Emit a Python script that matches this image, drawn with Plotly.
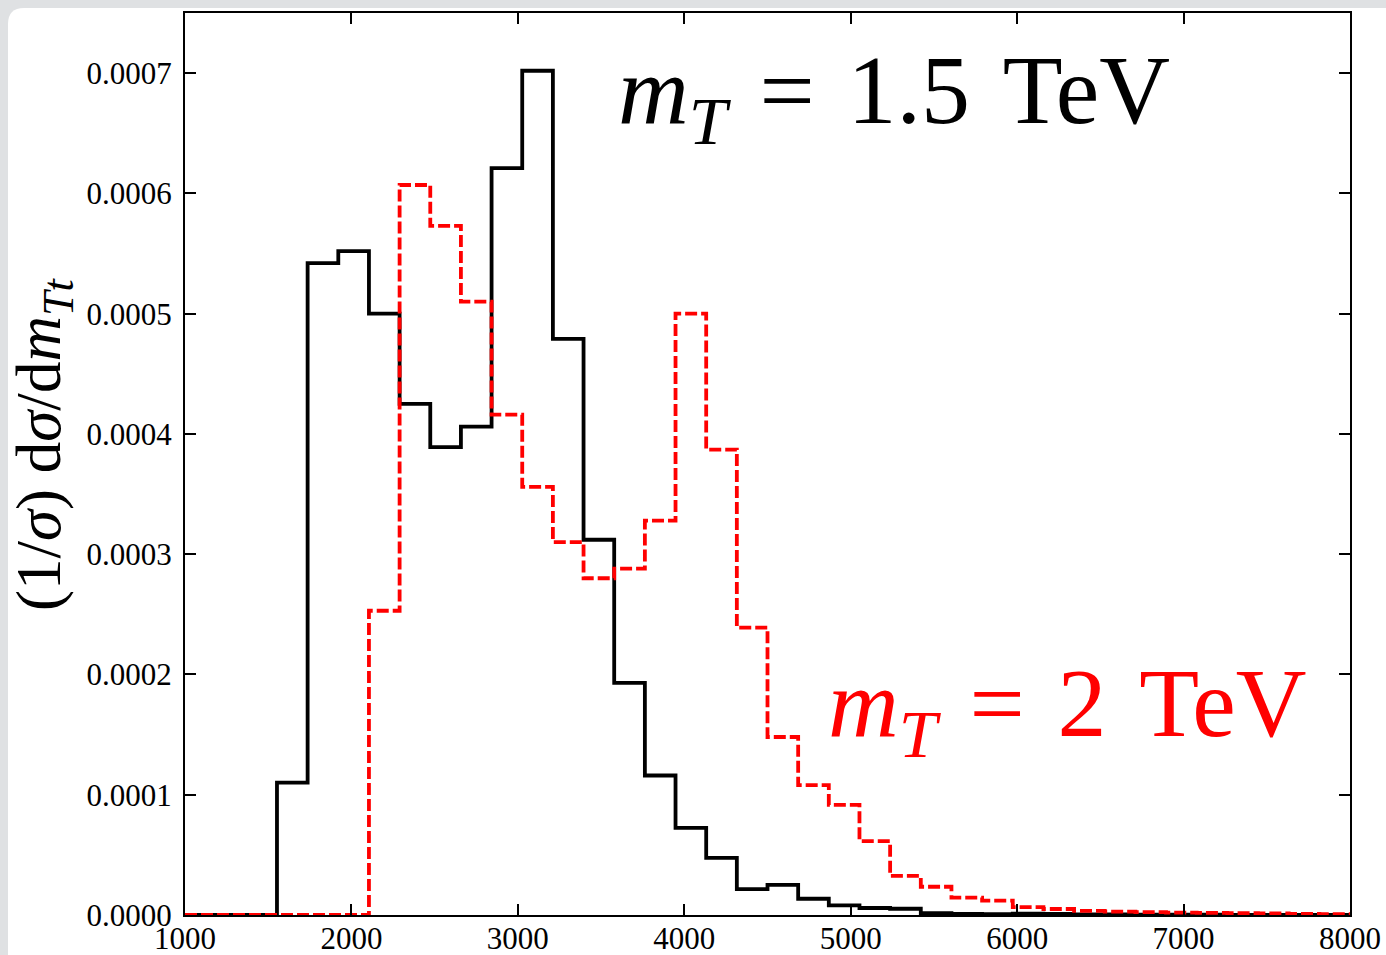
import plotly.graph_objects as go

# Bin edges (GeV) of the m_Tt histograms (38 bins from 1000 to 8000)
bin_edges = [1000.0, 1184.2, 1368.4, 1552.6, 1736.8, 1921.1, 2105.3, 2289.5, 2473.7,
             2657.9, 2842.1, 3026.3, 3210.5, 3394.7, 3578.9, 3763.2, 3947.4, 4131.6,
             4315.8, 4500.0, 4684.2, 4868.4, 5052.6, 5236.8, 5421.1, 5605.3, 5789.5,
             5973.7, 6157.9, 6342.1, 6526.3, 6710.5, 6894.7, 7078.9, 7263.2, 7447.4,
             7631.6, 7815.8, 8000.0]

# (1/sigma) dsigma/dm_Tt for m_T = 1.5 TeV (black, solid)
mt15_values = [0.0, 0.0, 0.0, 0.000110, 0.000542, 0.000552, 0.000500, 0.000425,
               0.000389, 0.000406, 0.000621, 0.000702, 0.000479, 0.000312, 0.000193,
               0.000116, 0.0000725, 0.0000475, 0.0000215, 0.0000250, 0.0000135,
               0.0000080, 0.0000058, 0.0000052, 0.0000015, 0.0000010, 0.0000008,
               0.0000012, 0.0000010, 0.0000006, 0.0000004, 0.0000003, 0.0000002,
               0.0000002, 0.0000001, 0.0000001, 0.0, 0.0]

# (1/sigma) dsigma/dm_Tt for m_T = 2 TeV (red, dashed)
mt2_values = [0.0, 0.0, 0.0, 0.0, 0.0, 0.0, 0.000253, 0.000607, 0.000573, 0.000510,
              0.000416, 0.000356, 0.000310, 0.000280, 0.000288, 0.000328, 0.000500,
              0.000387, 0.000239, 0.000148, 0.000108, 0.0000915, 0.0000615, 0.0000325,
              0.0000235, 0.0000145, 0.0000120, 0.0000065, 0.0000050, 0.0000035,
              0.0000028, 0.0000024, 0.0000020, 0.0000018, 0.0000015, 0.0000013,
              0.0000010, 0.0000008]

x_ticks = [1000, 2000, 3000, 4000, 5000, 6000, 7000, 8000]
y_ticks = [0.0, 0.0001, 0.0002, 0.0003, 0.0004, 0.0005, 0.0006, 0.0007]

W, H = 1386, 955
ML, MR, MT, MB = 185, 36, 13, 40
PW, PH = W - ML - MR, H - MT - MB

def px_x(p):
    return (p - ML) / PW

def px_y(p):
    return (H - MB - p) / PH

fig = go.Figure()
fig.add_trace(go.Scatter(
    x=bin_edges, y=mt15_values + [mt15_values[-1]], mode="lines",
    line=dict(shape="hv", color="black", width=3.8), showlegend=False))
fig.add_trace(go.Scatter(
    x=bin_edges, y=mt2_values + [mt2_values[-1]], mode="lines",
    line=dict(shape="hv", color="#ff0000", width=3.8, dash="12px,4px"), showlegend=False))

serif = "Liberation Serif, DejaVu Serif, serif"

axis_common = dict(showline=True, linecolor="black", linewidth=2, mirror="ticks",
                   ticks="inside", ticklen=11, tickwidth=1.5, tickcolor="black",
                   showgrid=False, zeroline=False, automargin=False,
                   tickfont=dict(family=serif, size=31, color="black"))
fig.update_xaxes(range=[1000, 8000], tickvals=x_ticks, ticklabelstandoff=-5,
                 ticktext=[str(v) for v in x_ticks], **axis_common)
fig.update_yaxes(range=[0, 0.00075], tickvals=y_ticks, ticklabelstandoff=5,
                 ticktext=[f"{v:.4f}" for v in y_ticks], **axis_common)

# page frame: grey border with a white rounded sheet
x0, y0 = px_x(8), px_y(8)
x1, yb = px_x(W + 20), px_y(H + 20)
rx, ry = 16 / PW, 16 / PH
path = (f"M {x0},{yb} L {x0},{y0 - ry} Q {x0},{y0} {x0 + rx},{y0} "
        f"L {x1},{y0} L {x1},{yb} Z")
fig.add_shape(type="path", path=path, xref="paper", yref="paper",
              fillcolor="white", line=dict(width=0), layer="below")

fig.add_annotation(x=3590, y=0.000680, xref="x", yref="y", xanchor="left", yanchor="middle",
                   text="<i>m</i><sub><i>T</i></sub>\u2004=\u20041.5\u2004TeV", showarrow=False,
                   font=dict(family=serif, size=98, color="black"))
fig.add_annotation(x=4850, y=0.000170, xref="x", yref="y", xanchor="left", yanchor="middle",
                   text="<i>m</i><sub><i>T</i></sub>\u2004=\u20042\u2004TeV", showarrow=False,
                   font=dict(family=serif, size=98, color="#ff0000"))
fig.add_annotation(x=px_x(44), y=px_y(445), xref="paper", yref="paper",
                   xanchor="center", yanchor="middle", textangle=-90,
                   text="(1/<i>σ</i>) d<i>σ</i>/d<i>m</i><sub><i>Tt</i></sub>",
                   showarrow=False, font=dict(family=serif, size=63, color="black"))

fig.update_layout(width=W, height=H, margin=dict(l=ML, r=MR, t=MT, b=MB),
                  paper_bgcolor="#dfe1e3", plot_bgcolor="white")

fig.write_html("out.html")
